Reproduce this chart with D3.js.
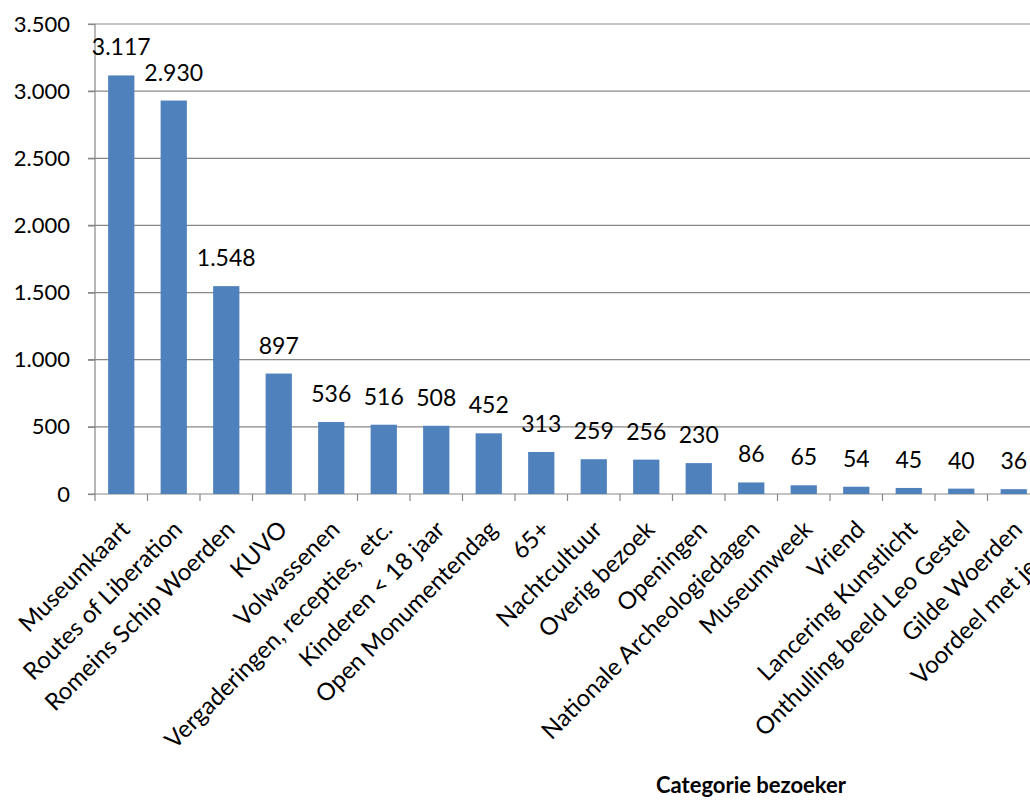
<!DOCTYPE html>
<html>
<head>
<meta charset="utf-8">
<script src="https://cdn.jsdelivr.net/npm/d3@7"></script>
<style>
  html, body { margin: 0; padding: 0; background: #fff; overflow: hidden; }
  text { font-family: Lato, "Open Sans", sans-serif; fill: #000; }
</style>
</head>
<body>
<script>
// categories and visitor counts (last three run off the right edge of the picture)
const categories = [
  "Museumkaart", "Routes of Liberation", "Romeins Schip Woerden", "KUVO",
  "Volwassenen", "Vergaderingen, recepties, etc.", "Kinderen < 18 jaar",
  "Open Monumentendag", "65+", "Nachtcultuur", "Overig bezoek", "Openingen",
  "Nationale Archeologiedagen", "Museumweek", "Vriend", "Lancering Kunstlicht",
  "Onthulling beeld Leo Gestel", "Gilde Woerden", "Voordeel met je Bieb",
  "Bruiloften", "Italiaanse avond"
];
const visitors = [3117, 2930, 1548, 897, 536, 516, 508, 452, 313, 259, 256, 230,
  86, 65, 54, 45, 40, 36, 30, 25, 20];
const yTicks = [0, 500, 1000, 1500, 2000, 2500, 3000, 3500];
const xTitle = "Categorie bezoeker";

const nl = d3.formatLocale({decimal: ",", thousands: ".", grouping: [3], currency: ["€", ""]});
const fmt = nl.format(",d");

const width = 1030, height = 802;
const margin = {left: 95, top: 24, bottom: 308};
const band = 52.5;
const grid = "#878787";

const svg = d3.select("body").append("svg")
  .attr("width", width).attr("height", height);

const x = d3.scaleBand()
  .domain(categories)
  .range([margin.left, margin.left + band * categories.length])
  .paddingInner(0.5).paddingOuter(0.25);
const y = d3.scaleLinear().domain([0, 3500]).range([height - margin.bottom, margin.top]);

// gridlines
svg.append("g").selectAll("line").data(yTicks.slice(1)).join("line")
  .attr("x1", margin.left - 7).attr("x2", width)
  .attr("y1", d => y(d)).attr("y2", d => y(d))
  .attr("stroke", grid).attr("stroke-width", 1.2);

// y axis
const yAxis = d3.axisLeft(y).tickValues(yTicks).tickSize(7).tickPadding(18).tickFormat(fmt);
const gy = svg.append("g").attr("transform", `translate(${margin.left},0)`).call(yAxis);
gy.select(".domain").attr("stroke", grid).attr("stroke-width", 1.2).attr("d", `M0,${y(3500)}V${y(0)}`);
gy.selectAll(".tick line").attr("stroke", grid).attr("stroke-width", 1.2);
gy.selectAll(".tick text").attr("font-size", 22).attr("fill", "#000")
  .attr("font-family", "Lato, sans-serif");

// x axis baseline and tick marks between categories
const x0 = y(0);
svg.append("line").attr("x1", margin.left - 7).attr("x2", width)
  .attr("y1", x0).attr("y2", x0).attr("stroke", grid).attr("stroke-width", 1.2);
svg.append("g").selectAll("line").data(d3.range(categories.length + 1)).join("line")
  .attr("x1", i => margin.left + i * band).attr("x2", i => margin.left + i * band)
  .attr("y1", x0).attr("y2", x0 + 7)
  .attr("stroke", grid).attr("stroke-width", 1.2);

// bars
svg.append("g").selectAll("rect").data(categories).join("rect")
  .attr("x", d => x(d)).attr("width", x.bandwidth())
  .attr("y", (d, i) => y(visitors[i]))
  .attr("height", (d, i) => y(0) - y(visitors[i]))
  .attr("fill", "#4f81bd");

// value labels
svg.append("g").selectAll("text").data(categories).join("text")
  .attr("x", d => x(d) + x.bandwidth() / 2)
  .attr("y", (d, i) => y(visitors[i]) - 20)
  .attr("text-anchor", "middle").attr("font-size", 23)
  .text((d, i) => fmt(visitors[i]));

// category labels, rotated
svg.append("g").selectAll("text").data(categories).join("text")
  .attr("transform", d => `translate(${x(d) + x.bandwidth() / 2 + 10},${x0 + 37}) rotate(-45)`)
  .attr("text-anchor", "end").attr("font-size", 24)
  .text(d => d);

// axis title
svg.append("text")
  .attr("x", 751).attr("y", 793)
  .attr("text-anchor", "middle").attr("font-size", 22).attr("font-weight", "bold")
  .text(xTitle);
</script>
</body>
</html>
